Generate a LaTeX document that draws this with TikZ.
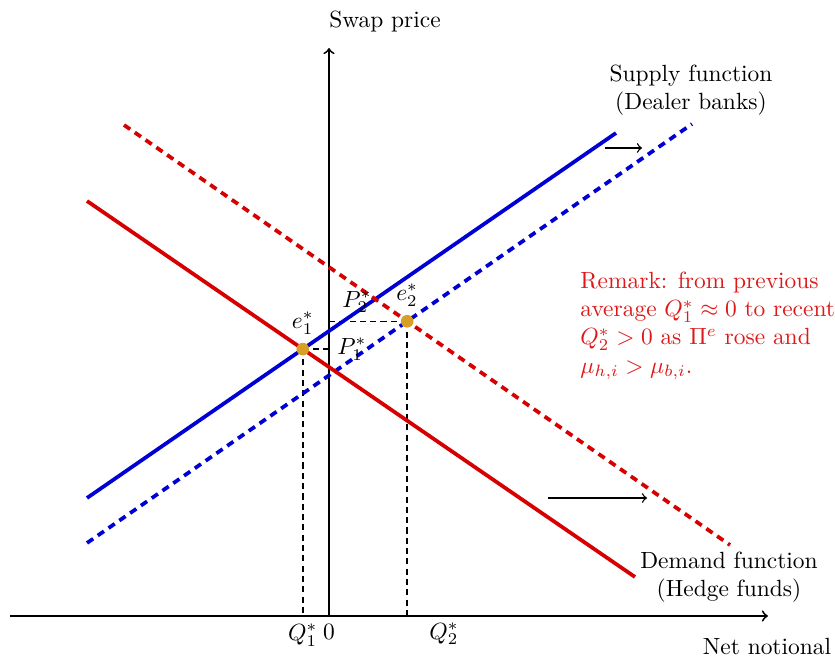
\documentclass[tikz,border=0pt]{standalone}
\usetikzlibrary{intersections}
\definecolor{supplyblue}{RGB}{0,0,212}
\definecolor{demandred}{RGB}{214,0,0}
\definecolor{remarkred}{RGB}{222,24,24}
\definecolor{eqgold}{RGB}{214,160,38}
\begin{document}
\begin{tikzpicture}[
        curve/.style={line width=1.6pt},
        shifted/.style={curve, dash pattern=on 3.2pt off 2.4pt},
        guide/.style={semithick, dash pattern=on 2.6pt off 1.8pt},
        eqdot/.style={circle, fill=eqgold, inner sep=0pt, minimum size=5.4pt}]
        \useasboundingbox (-4.935,-0.66) rectangle (7.59,9.24);
        \coordinate (origin) at (0,0);
        \coordinate (xmin) at (-4.785,0);
        \coordinate (xmax) at (6.585,0);
        \coordinate (ymax) at (0,8.52);
        \draw[thick,->] (xmin) -- (xmax);
        \draw[thick,->] (origin) -- (ymax);
        % curves (only named here, drawn below)
        \path[name path=supply] (-3.63,1.77) -- (4.305,7.245);
        \path[name path=supplynew] (-3.63,1.095) -- (5.445,7.38);
        \path[name path=demand] (-3.63,6.225) -- (4.59,0.585);
        \path[name path=demandnew] (-3.075,7.365) -- (6.015,1.065);
        \path[name intersections={of=supply and demand, by=e1}];
        \path[name intersections={of=supplynew and demandnew, by=e2}];
        \draw[guide] (e1) -- (e1 |- origin);
        \draw[guide] (e1) -- (e1 -| origin);
        \draw[guide] (e2) -- (e2 |- origin);
        \draw[guide] (e2) -- (e2 -| origin);
        \draw[curve, supplyblue] (-3.63,1.77) -- (4.305,7.245);
        \draw[shifted, supplyblue] (-3.63,1.095) -- (5.445,7.38);
        \draw[curve, demandred] (-3.63,6.225) -- (4.59,0.585);
        \draw[shifted, demandred] (-3.075,7.365) -- (6.015,1.065);
        % shifts
        \draw[semithick,->] (4.14,7.02) -- (4.695,7.02);
        \draw[semithick,->] (3.285,1.77) -- (4.77,1.77);
        % equilibria
        \node[eqdot] (dot1) at (e1) {};
        \node[eqdot] (dot2) at (e2) {};
        \node[above=0pt] (e1lab) at (dot1.north) {$e_1^*$};
        \node[above=0pt] (e2lab) at (dot2.north) {$e_2^*$};
        \node[right] (p1lab) at (e1 -| origin) {$P_1^*$};
        \node (p2lab) at (0.42,4.71) {$P_2^*$};
        \node[below] (q1lab) at (e1 |- origin) {$Q_1^*$};
        \node (q2lab) at (1.725,-0.27) {$Q_2^*$};
        \node[below] (zero) at (origin) {$0$};
        % axis and curve labels
        \node (ylab) at (0.84,8.91) {Swap price};
        \node (xlab) at (6.57,-0.465) {Net notional};
        \node[align=center] (supplylab) at (5.43,7.89) {Supply function\\(Dealer banks)};
        \node[align=center] (demandlab) at (6.0,0.585) {Demand function\\(Hedge funds)};
        \node[anchor=west, align=left, inner sep=0pt, text=remarkred] (remark) at (3.765,4.35)
            {Remark: from previous\\average $Q_1^*\approx 0$ to recent\\$Q_2^*>0$ as $\Pi^e$ rose and\\$\mu_{h,i}>\mu_{b,i}$.};
\end{tikzpicture}
\end{document}
